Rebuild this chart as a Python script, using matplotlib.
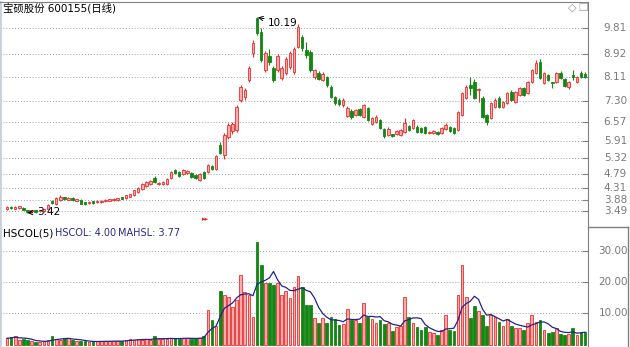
import numpy as np
import pandas as pd
import matplotlib
matplotlib.use("Agg")
import matplotlib.pyplot as plt
from matplotlib.lines import Line2D

plt.rcParams['font.family'] = ['DejaVu Sans', 'Noto Sans CJK SC']

# daily prices (open / high / low / close)
opens = [3.57, 3.64, 3.58, 3.60, 3.61, 3.53, 3.49, 3.53, 3.49, 3.50,
         3.57, 3.84, 3.75, 3.88, 3.97, 3.89, 3.95, 3.86, 3.88, 3.80,
         3.77, 3.83, 3.80, 3.81, 3.84, 3.85, 3.87, 3.88, 3.97, 3.94,
         3.99, 4.05, 4.15, 4.26, 4.36, 4.43, 4.64, 4.42, 4.43, 4.43,
         4.64, 4.91, 4.85, 4.78, 4.81, 4.81, 4.74, 4.57, 4.85, 4.85,
         5.05, 4.95, 5.78, 5.43, 6.05, 6.26, 6.29, 7.33, 7.43, 8.02,
         8.95, 10.16, 9.67, 8.36, 8.85, 8.43, 8.36, 8.09, 8.26, 8.47,
         8.29, 9.16, 9.50, 9.05, 8.98, 8.12, 8.26, 8.02, 8.12, 7.78,
         7.43, 7.33, 7.16, 6.78, 6.95, 6.81, 7.02, 6.74, 7.05, 6.50,
         6.57, 6.64, 6.33, 6.12, 6.15, 6.15, 6.12, 6.22, 6.43, 6.36,
         6.40, 6.36, 6.40, 6.19, 6.19, 6.22, 6.19, 6.33, 6.40, 6.36,
         6.29, 6.81, 7.40, 7.84, 7.95, 7.67, 7.40, 6.81, 6.71, 7.09,
         7.40, 7.09, 7.22, 7.60, 7.26, 7.50, 7.74, 7.57, 7.95, 8.26,
         8.64, 7.91, 8.19, 7.93, 7.95, 8.26, 8.05, 7.78, 8.17, 7.95,
         8.26, 8.22]
highs = [3.67, 3.66, 3.66, 3.69, 3.63, 3.55, 3.55, 3.55, 3.54, 3.58,
         3.75, 3.87, 3.98, 4.04, 4.00, 3.97, 3.97, 3.93, 3.90, 3.82,
         3.84, 3.86, 3.87, 3.88, 3.90, 3.92, 3.94, 3.96, 3.99, 4.06,
         4.10, 4.24, 4.32, 4.46, 4.53, 4.57, 4.70, 4.50, 4.53, 4.63,
         4.88, 4.95, 4.88, 4.95, 4.91, 4.85, 4.77, 4.81, 4.88, 5.12,
         5.09, 5.43, 5.88, 6.18, 6.55, 6.57, 7.15, 7.85, 7.75, 8.50,
         9.40, 10.19, 9.80, 9.02, 9.09, 8.50, 8.90, 8.50, 8.80, 9.00,
         9.15, 9.95, 9.55, 9.33, 9.05, 8.40, 8.33, 8.29, 8.15, 7.84,
         7.47, 7.40, 7.38, 7.12, 7.00, 7.02, 7.05, 7.20, 7.10, 6.75,
         6.80, 6.68, 6.36, 6.38, 6.17, 6.30, 6.33, 6.71, 6.47, 6.68,
         6.45, 6.40, 6.43, 6.25, 6.29, 6.25, 6.40, 6.52, 6.43, 6.40,
         6.95, 7.60, 7.84, 8.12, 8.05, 7.74, 7.45, 6.85, 7.26, 7.38,
         7.45, 7.30, 7.60, 7.67, 7.64, 7.78, 7.78, 7.98, 8.40, 8.70,
         8.74, 8.30, 8.22, 7.95, 8.29, 8.33, 8.09, 7.98, 8.36, 8.15,
         8.33, 8.29]
lows = [3.55, 3.58, 3.56, 3.58, 3.52, 3.42, 3.46, 3.45, 3.47, 3.48,
        3.55, 3.76, 3.72, 3.85, 3.89, 3.87, 3.86, 3.84, 3.73, 3.72,
        3.75, 3.76, 3.78, 3.79, 3.82, 3.83, 3.85, 3.86, 3.90, 3.92,
        3.97, 4.03, 4.12, 4.24, 4.33, 4.40, 4.47, 4.40, 4.41, 4.41,
        4.62, 4.78, 4.68, 4.75, 4.78, 4.64, 4.60, 4.54, 4.60, 4.81,
        4.91, 4.91, 5.45, 5.30, 5.98, 6.15, 6.22, 7.25, 7.33, 7.95,
        8.80, 9.55, 8.65, 8.30, 8.54, 7.95, 8.30, 8.02, 8.20, 8.40,
        8.22, 9.10, 9.00, 8.78, 8.30, 8.05, 8.00, 7.98, 7.78, 7.38,
        7.16, 7.12, 7.09, 6.74, 6.68, 6.76, 6.76, 6.70, 6.60, 6.45,
        6.52, 6.32, 6.03, 6.08, 6.05, 6.12, 6.08, 6.18, 6.25, 6.32,
        6.18, 6.18, 6.15, 6.15, 6.15, 6.12, 6.15, 6.30, 6.22, 6.15,
        6.25, 6.78, 7.36, 7.50, 7.36, 7.26, 6.70, 6.45, 6.67, 7.05,
        7.05, 7.05, 7.18, 7.29, 7.22, 7.45, 7.45, 7.53, 7.91, 8.22,
        8.05, 7.88, 7.98, 7.74, 7.91, 8.05, 7.78, 7.70, 8.02, 7.91,
        8.09, 8.09]
closes = [3.64, 3.60, 3.63, 3.66, 3.54, 3.48, 3.52, 3.48, 3.52, 3.56,
          3.72, 3.79, 3.95, 4.00, 3.92, 3.94, 3.89, 3.90, 3.76, 3.75,
          3.81, 3.79, 3.84, 3.86, 3.87, 3.90, 3.91, 3.94, 3.92, 4.04,
          4.08, 4.21, 4.29, 4.43, 4.50, 4.53, 4.50, 4.47, 4.50, 4.60,
          4.85, 4.81, 4.71, 4.91, 4.88, 4.67, 4.64, 4.78, 4.64, 5.09,
          4.95, 5.40, 5.50, 6.12, 6.47, 6.50, 7.09, 7.78, 7.67, 8.43,
          9.29, 9.64, 8.71, 8.95, 8.64, 8.02, 8.85, 8.43, 8.74, 8.95,
          9.09, 9.85, 9.12, 8.88, 8.36, 8.36, 8.05, 8.22, 7.84, 7.43,
          7.22, 7.19, 7.33, 7.05, 6.74, 6.98, 6.81, 7.16, 6.64, 6.71,
          6.74, 6.36, 6.09, 6.33, 6.09, 6.26, 6.29, 6.53, 6.29, 6.64,
          6.22, 6.22, 6.19, 6.22, 6.26, 6.15, 6.36, 6.47, 6.26, 6.19,
          6.91, 7.57, 7.78, 7.74, 7.40, 7.71, 6.74, 6.57, 7.22, 7.33,
          7.09, 7.26, 7.57, 7.33, 7.60, 7.74, 7.50, 7.95, 8.36, 8.60,
          8.09, 8.26, 8.02, 7.90, 8.26, 8.09, 7.81, 7.95, 8.12, 8.12,
          8.12, 8.12]

# turnover rate (HSCOL), %
turnover = [2.0, 2.3, 2.8, 1.6, 1.8, 1.4, 1.0, 0.8, 0.8, 1.2,
            1.6, 2.6, 1.8, 1.6, 2.0, 2.0, 1.5, 1.2, 1.0, 1.0,
            0.9, 1.0, 1.0, 1.1, 1.2, 1.0, 1.1, 1.2, 1.0, 1.6,
            1.8, 1.5, 1.7, 1.5, 1.8, 1.6, 2.6, 1.8, 1.7, 1.8,
            2.0, 2.2, 1.9, 2.0, 2.0, 1.9, 2.0, 2.2, 2.6, 11.0,
            7.8, 6.0, 17.2, 15.8, 15.3, 12.1, 14.2, 22.2, 16.9, 15.8,
            8.9, 32.9, 25.4, 19.6, 19.8, 19.0, 19.6, 15.8, 17.2, 15.0,
            18.5, 21.9, 18.5, 12.7, 12.7, 8.6, 7.0, 8.6, 6.8, 8.7,
            8.1, 6.3, 6.6, 11.3, 7.9, 7.9, 7.0, 13.2, 8.7, 8.3,
            6.8, 7.7, 6.6, 7.0, 4.4, 5.5, 6.0, 15.1, 8.9, 7.0,
            5.7, 4.8, 5.5, 4.1, 3.6, 3.1, 4.6, 9.5, 4.6, 4.4,
            15.8, 25.4, 15.3, 8.4, 12.3, 10.8, 9.5, 6.0, 9.5, 8.9,
            7.3, 6.0, 8.3, 6.0, 5.3, 5.3, 4.6, 6.8, 9.5, 7.3,
            7.9, 4.6, 3.8, 4.1, 5.2, 3.4, 3.1, 3.4, 5.2, 3.1,
            4.1, 4.0]

price_ticks = [3.49, 3.88, 4.31, 4.79, 5.32, 5.91, 6.57, 7.30, 8.11, 8.92, 9.81]
turn_ticks = [10, 20, 30]

RED_EDGE = '#e4302e'
RED_FILL = '#ffaaaa'
GREEN = '#138613'
GRID = '#a0a0a0'
LABEL = '#7a7a7a'

W, H = 630, 347


def fx(x):
    return x / W


def fy(y):
    return 1 - y / H


o = np.array(opens)
c = np.array(closes)
idx = np.arange(len(c))
up = c >= o
face = np.where(up, RED_FILL, GREEN)
edge = np.where(up, RED_EDGE, GREEN)

fig = plt.figure(figsize=(6.3, 3.47), dpi=100)
ax = fig.add_axes([0, fy(225), fx(588), fy(2) - fy(225)])
ax2 = fig.add_axes([0, 0, fx(588), fy(225)], sharex=ax)

# candles
ax.vlines(idx, lows, highs, colors=edge, lw=0.8, zorder=2)
body = np.maximum(np.abs(c - o), 0.015)
ax.bar(idx, body, bottom=np.minimum(o, c), width=0.62, color=face,
       edgecolor=edge, lw=0.6, zorder=3)

for t in price_ticks:
    ax.axhline(t, color=GRID, ls=(0, (1, 2)), lw=0.7, zorder=0)
    ax.text(fx(627) / fx(588), t, f'{t:.2f}', transform=ax.get_yaxis_transform(),
            ha='right', va='center', fontsize=7.5, color=LABEL, clip_on=False)

ax.set_xlim(-1.7, 141.7)
ax.set_ylim(3.02, 10.70)
ax.set_yticks(price_ticks)
ax.yaxis.tick_right()
ax.tick_params(axis='y', direction='in', length=4, color='#808080', labelright=False)
ax.tick_params(axis='x', bottom=False, labelbottom=False)

ax.annotate('10.19', xy=(61.2, 10.17), xytext=(63.7, 9.98), ha='left', va='center',
            fontsize=7.5, arrowprops=dict(arrowstyle='->', color='black', lw=0.7,
                                          shrinkA=1, shrinkB=0))
ax.annotate('3.42', xy=(5.0, 3.44), xytext=(7.3, 3.46), ha='left', va='center',
            fontsize=7.5, arrowprops=dict(arrowstyle='->', color='black', lw=0.7,
                                          shrinkA=1, shrinkB=0))

# turnover bars + 5 day average
ma = pd.Series(turnover).rolling(5, min_periods=1).mean()
ax2.bar(idx, turnover, width=0.66, color=face, edgecolor=edge, lw=0.6, zorder=3)
ax2.plot(idx, ma, color='#23238c', lw=0.9, zorder=4)
for t in turn_ticks:
    ax2.axhline(t, color=GRID, ls=(0, (1, 2)), lw=0.7, zorder=0)
    ax2.text(fx(628) / fx(588), t, f'{t:.2f}', transform=ax2.get_yaxis_transform(),
             ha='right', va='center', fontsize=7.5, color=LABEL, clip_on=False)
ax2.set_ylim(-0.77, 38.2)
ax2.set_yticks(turn_ticks)
ax2.yaxis.tick_right()
ax2.tick_params(axis='y', direction='in', length=4, color='#808080', labelright=False)
ax2.tick_params(axis='x', bottom=False, labelbottom=False)

for a in (ax, ax2):
    a.spines['left'].set_color('#c8d0dc')
    a.spines['left'].set_linewidth(2)
    a.spines['right'].set_color('#808080')
    a.spines['top'].set_color('#808080')
    a.spines['bottom'].set_visible(False)
ax2.spines['top'].set_visible(False)

# right box around the lower scale
fig.add_artist(Line2D([fx(588), fx(628)], [fy(226.5), fy(226.5)], color='#808080', lw=1))
fig.add_artist(Line2D([fx(628), fx(628)], [fy(226.5), 0], color='#808080', lw=1))

# captions
fig.text(fx(3), fy(8.5), '宝硕股份 600155(日线)', fontsize=7.5, va='center', ha='left')
fig.text(fx(568), fy(8), '◇', fontsize=8, color='#909090', va='center')
fig.text(fx(578), fy(8), '❐', fontsize=8, color='#909090', va='center')
fig.text(fx(202), fy(219), '▸▸', fontsize=5, color='#e0302e', va='center')
fig.text(fx(3), fy(233), 'HSCOL(5)', fontsize=7.5, va='center')
fig.text(fx(55), fy(233), 'HSCOL: 4.00', fontsize=7, va='center', color='#2a2a8a')
fig.text(fx(118), fy(233), 'MAHSL: 3.77', fontsize=7, va='center', color='#2a2a8a')

fig.savefig('out.png', dpi=100)
